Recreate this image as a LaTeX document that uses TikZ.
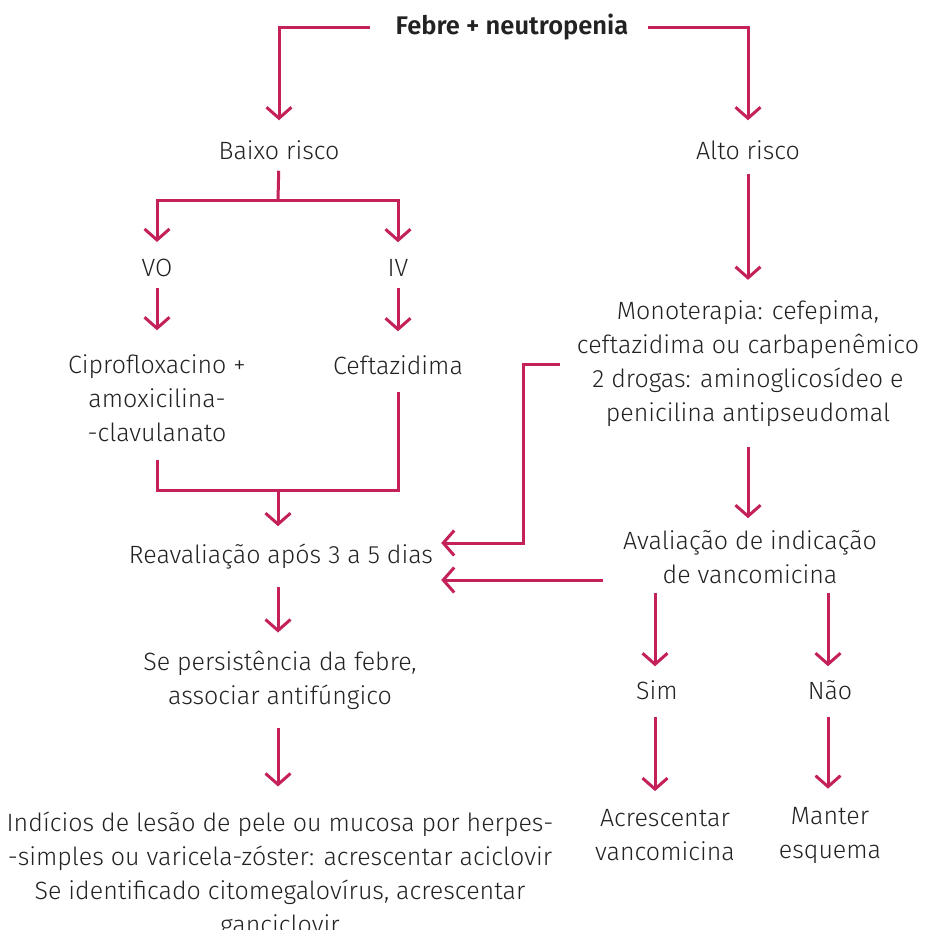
\documentclass[tikz,border=0pt]{standalone}
\usepackage{fontspec}
\setmainfont{Fira Sans}[UprightFont=* Light, BoldFont=* SemiBold]
\usetikzlibrary{arrows.meta}

\definecolor{vinho}{RGB}{196,32,90}
\definecolor{texto}{RGB}{34,34,34}

\tikzset{
  passo/.style={inner sep=0pt, text=texto, align=center, font=\fontsize{25}{34}\selectfont},
  linha/.style={draw=vinho, line width=3pt},
  seta/.style={linha, -{Straight Barb[length=11pt,width=25pt]}},
}

\begin{document}
\begin{tikzpicture}[x=1pt,y=-1pt]
    \useasboundingbox (0,0) rectangle (926,930);

    % Nodi del fluxograma
    \node[passo, font=\fontsize{25.5}{34}\selectfont\bfseries](febre) at (512,27) {Febre + neutropenia};
    \node[passo](baixo) at (279,150) {Baixo risco};
    \node[passo](alto) at (748,150) {Alto risco};
    \node[passo](vo) at (157,268) {VO};
    \node[passo](iv) at (398,268) {IV};
    \node[passo](cipro) at (157,398) {Ciprofloxacino +\\amoxicilina-\\-clavulanato};
    \node[passo](ceft) at (398,365) {Ceftazidima};
    \node[passo](reav) at (281,557) {Reavaliação após 3 a 5 dias};
    \node[passo](persist) at (280,680) {Se persistência da febre,\\associar antifúngico};
    \node[passo](herpes) at (280,875) {Indícios de lesão de pele ou mucosa por herpes-\\-simples ou varicela-zóster: acrescentar aciclovir\\Se identificado citomegalovírus, acrescentar\\ganciclovir};
    \node[passo](mono) at (748,364) {Monoterapia: cefepima,\\ceftazidima ou carbapenêmico\\2 drogas: aminoglicosídeo e\\penicilina antipseudomal};
    \node[passo](vanco) at (750,557) {Avaliação de indicação\\de vancomicina};
    \node[passo](sim) at (657,690) {Sim};
    \node[passo](nao) at (830,690) {Não};
    \node[passo](acresc) at (665,835) {Acrescentar\\vancomicina};
    \node[passo](manter) at (830,835) {Manter\\esquema};

    % Pontos de juncao
    \coordinate (bx) at (278,200);
    \coordinate (jn) at (278,490);
    \coordinate (volta) at (523,543);

    % Ramo de baixo risco
    \draw[seta, shorten <=26pt, shorten >=20pt] (febre.west) -| (baixo.north);
    \draw[linha, shorten <=11pt] (baixo.south) -- (bx);
    \draw[seta, shorten >=17pt] (bx) -| (vo.north);
    \draw[seta, shorten >=17pt] (bx) -| (iv.north);
    \draw[seta, shorten <=11pt, shorten >=24pt] (vo) -- (cipro);
    \draw[seta, shorten <=11pt, shorten >=24pt] (iv) -- (ceft);
    \draw[linha, shorten <=18pt] (cipro.south) |- (jn);
    \draw[linha, shorten <=17pt] (ceft.south) |- (jn);
    \draw[seta, shorten >=18pt] (jn) -- (jn |- reav.north);
    \draw[seta, shorten <=17pt, shorten >=18pt] (reav.south -| jn) -- (persist.north -| jn);
    \draw[seta, shorten <=18pt, shorten >=25pt] (persist.south -| jn) -- (herpes.north -| jn);

    % Ramo de alto risco
    \draw[seta, shorten <=20pt, shorten >=20pt] (febre.east) -| (alto.north);
    \draw[seta, shorten <=14pt, shorten >=21pt] (alto.south) -- (mono.north -| alto);
    \draw[seta, shorten <=17pt, shorten >=8pt] (mono.west) -| (volta) -- (volta -| reav.east);
    \draw[seta, shorten <=20pt, shorten >=12pt] (mono.south -| alto) -- (vanco.north -| alto);
    \draw[seta, shorten <=20pt, shorten >=8pt] ([yshift=-23pt]vanco.west) -- ([yshift=-23pt]vanco.west -| reav.east);
    \draw[seta, shorten <=9pt, shorten >=14pt] (vanco.south -| 655,0) -- (sim.north -| 655,0);
    \draw[seta, shorten <=9pt, shorten >=14pt] (vanco.south -| 828,0) -- (nao.north -| 828,0);
    \draw[seta, shorten <=17pt, shorten >=18pt] (sim.south -| 655,0) -- (acresc.north -| 655,0);
    \draw[seta, shorten <=17pt, shorten >=18pt] (nao.south -| 828,0) -- (manter.north -| 828,0);
\end{tikzpicture}
\end{document}
